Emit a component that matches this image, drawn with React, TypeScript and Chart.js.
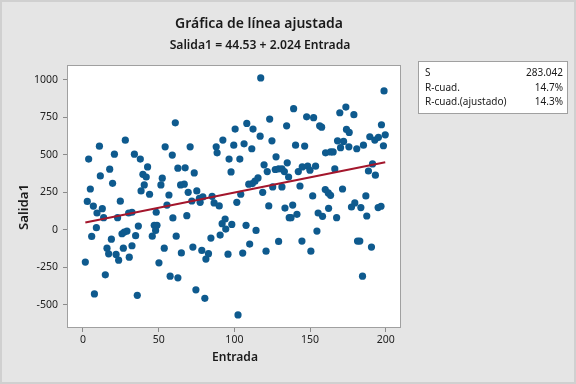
import { useEffect, useRef } from "react";
import { Chart, registerables } from "chart.js";

Chart.register(...registerables);

const entrada = [
  3.8, 10.9, 28, 61, 20.8, 34, 37.9, 42.7, 17.7, 11.5, 19.6, 39.6, 41.8, 40.5, 38.4, 44, 4.9, 2.9, 6.9, 12.8,
  24.7, 54.3, 59, 62.7, 52.4, 51.5, 56.8, 55.5, 64.5, 9.3, 13.7, 22.9, 30.2, 32.4, 8.9, 5.8, 1.6, 7.6, 14.8, 15.9,
  17, 18.8, 21.9, 23.6, 25.8, 27.3, 29.1, 26.7, 30.6, 32.4, 34.8, 36.6, 35.9, 48.4, 59.4, 47.1, 48.9, 48, 45.8, 53.7,
  50.2, 57.6, 62.7, 61.6, 65, 117.4, 67.5, 70.8, 73.5, 66.9, 69.5, 75.2, 71.9, 76.9, 79.2, 77.4, 85.3, 86.6, 90, 88,
  88.6, 92.4, 100.5, 108.2, 112.3, 99.6, 106.4, 111.5, 117, 123.3, 124.8, 134.5, 96.5, 103.6, 97.8, 127.5, 119.6, 121.7, 127, 129.2,
  131.4, 133, 134.9, 135.8, 115.6, 113.6, 111.9, 109.5, 118.7, 125.3, 131.4, 104.2, 101.6, 122.7, 133.4, 68.6, 72.6, 78.5, 82.9, 81.2,
  74.6, 80.5, 84.5, 90.6, 91.9, 93.9, 94.3, 98.3, 95.8, 105.5, 107.7, 114.3, 110.1, 120.9, 129.2, 136.2, 102.4, 198.8, 139.1, 169.6,
  173.6, 178.9, 147.7, 152.3, 156.3, 157.6, 174, 175.8, 197.1, 199.6, 189.4, 192.7, 195.1, 198.4, 168.1, 172.1, 170.1, 175.6, 180.8, 185.2,
  140.4, 146.4, 160.2, 163.5, 165.2, 142.2, 144.8, 148.4, 149.9, 153.6, 166.3, 191.2, 188.5, 193.1, 143.3, 160, 162, 163.5, 171.4, 151.7,
  186.8, 138.5, 162.2, 177.3, 179.5, 183.5, 194.9, 196.8, 137.4, 141.3, 155.3, 158.2, 167.5, 187.4, 144.6, 150.5, 154.5, 181.3, 182.8, 190.5,
  184.6,
];

const salida1 = [
  470, 556, 596, 712, 503, 503, 470, 418, 403, 358, 309, 369, 351, 298, 258, 236, 271, 188, 157, 140,
  190, 552, 497, 410, 343, 298, 231, 164, 298, 111, 80, 80, 111, 116, 13, -45, -216, -428, -301, -123,
  -161, -63, -165, -203, -27, -16, -9, -123, -183, -107, -40, 24, -437, 116, 78, 29, 29, -5, -43, -123,
  -221, -310, -321, -43, -155, 1011, 412, 552, 378, 303, 249, 258, 191, 209, 218, 182, 222, 178, 158, 552,
  512, 597, 670, 708, 670, 563, 572, 539, 623, 737, 592, 692, 470, 470, 385, 485, 432, 387, 401, 405,
  405, 387, 445, 351, 345, 323, 307, 303, 249, 285, 285, 236, 182, 158, 144, 93, -116, -138, -160, -196,
  -401, -457, -56, -36, 40, 71, 4, 35, -163, -156, 29, -5, -96, -143, -78, 80, -568, 924, 806, 779,
  817, 766, 752, 746, 692, 683, 668, 648, 699, 632, 619, 597, 615, 559, 592, 588, 546, 552, 539, 563,
  563, 557, 512, 518, 518, 387, 418, 423, 396, 423, 405, 438, 391, 363, 291, 267, 245, 229, 271, 225,
  225, 164, 142, 151, 178, 147, 147, 156, 80, 102, 111, 89, 80, 91, -76, -143, -9, -76, -76, -116,
  -310,
];

const xTicks = [0, 50, 100, 150, 200];
const yTicks = [-500, -250, 0, 250, 500, 750, 1000];

const chartTitle = "Gráfica de línea ajustada";
const chartSubtitle = "Salida1 = 44.53 + 2.024 Entrada";
const xTitle = "Entrada";
const yTitle = "Salida1";
const statLabels = ["S", "R-cuad.", "R-cuad.(ajustado)"];
const statValues = ["283.042", "14.7%", "14.3%"];
const intercept = 44.53;
const slope = 2.024;

const FONT = "'Noto Sans', 'Open Sans', sans-serif";

export default function App() {
  const ref = useRef<HTMLCanvasElement | null>(null);

  useEffect(() => {
    const canvas = ref.current;
    if (!canvas) return;
    const xmin = Math.min(...entrada);
    const xmax = Math.max(...entrada);
    const fitLine = [
      { x: xmin, y: intercept + slope * xmin },
      { x: xmax, y: intercept + slope * xmax },
    ];
    const points = entrada.map((x, i) => ({ x, y: salida1[i] }));

    const fitText = (ctx: CanvasRenderingContext2D, text: string, weight: string, size: number, target: number) => {
      ctx.font = `${weight} ${size}px ${FONT}`;
      const w = ctx.measureText(text).width;
      const s = (size * target) / w;
      ctx.font = `${weight} ${s}px ${FONT}`;
    };

    const decor = {
      id: "decor",
      beforeDraw(chart: any) {
        const ctx = chart.ctx as CanvasRenderingContext2D;
        const a = chart.chartArea;
        ctx.save();
        ctx.fillStyle = "#e5e5e5";
        ctx.fillRect(0, 0, chart.width, chart.height);
        ctx.strokeStyle = "#d0d0d0";
        ctx.lineWidth = 2;
        ctx.strokeRect(1, 1, chart.width - 2, chart.height - 2);
        ctx.fillStyle = "#ffffff";
        ctx.fillRect(a.left, a.top, a.right - a.left, a.bottom - a.top);
        ctx.restore();
      },
      afterDraw(chart: any) {
        const ctx = chart.ctx as CanvasRenderingContext2D;
        const a = chart.chartArea;
        ctx.save();
        ctx.strokeStyle = "#a0a0a0";
        ctx.lineWidth = 1;
        ctx.strokeRect(a.left + 0.5, a.top + 0.5, a.right - a.left - 1, a.bottom - a.top - 1);

        ctx.fillStyle = "#1a1a1a";
        ctx.textAlign = "center";
        ctx.textBaseline = "middle";
        fitText(ctx, chartTitle, "600", 17, 168);
        ctx.fillText(chartTitle, 259, 24);
        fitText(ctx, chartSubtitle, "600", 13, 181);
        ctx.fillText(chartSubtitle, 260, 46);

        fitText(ctx, xTitle, "600", 13, 46);
        ctx.fillText(xTitle, 235, 358);

        ctx.save();
        ctx.translate(24, 207);
        ctx.rotate(-Math.PI / 2);
        fitText(ctx, yTitle, "600", 13, 46);
        ctx.fillText(yTitle, 0, 0);
        ctx.restore();

        // stats box
        ctx.fillStyle = "#ffffff";
        ctx.fillRect(418, 61, 150, 53);
        ctx.strokeStyle = "#a0a0a0";
        ctx.strokeRect(418.5, 61.5, 149, 52);
        ctx.fillStyle = "#1a1a1a";
        ctx.font = `400 10px ${FONT}`;
        const rows = [73, 88, 102];
        statLabels.forEach((l, i) => {
          ctx.textAlign = "left";
          ctx.fillText(l, 425, rows[i]);
          ctx.textAlign = "right";
          ctx.fillText(statValues[i], 563, rows[i]);
        });
        ctx.restore();
      },
    };

    const chart = new Chart(canvas, {
      type: "scatter",
      data: {
        datasets: [
          {
            type: "line",
            data: fitLine,
            borderColor: "#a3162c",
            borderWidth: 2,
            pointRadius: 0,
            showLine: true,
            fill: false,
            order: 0,
          } as any,
          {
            data: points,
            backgroundColor: "#0e5a8e",
            borderColor: "#0e5a8e",
            pointRadius: 3.6,
            borderWidth: 0,
            order: 1,
          },
        ],
      },
      options: {
        responsive: false,
        animation: false,
        layout: { padding: { top: 65, left: 0, right: 175, bottom: 0 } },
        plugins: {
          legend: { display: false },
          tooltip: { enabled: false },
          title: { display: false },
        },
        scales: {
          x: {
            type: "linear",
            min: -10.5,
            max: 210,
            afterBuildTicks: (s: any) => {
              s.ticks = xTicks.map((v) => ({ value: v }));
            },
            afterFit: (s: any) => {
              s.height = 56;
            },
            grid: { drawOnChartArea: false, drawTicks: true, tickLength: 4, color: "#8a8a8a" },
            border: { display: false },
            ticks: {
              color: "#222",
              font: { family: FONT, size: 10.5 },
              padding: 2,
              maxRotation: 0,
              autoSkip: false,
              callback: (v: any) => String(v),
            },
          },
          y: {
            type: "linear",
            min: -655,
            max: 1097,
            afterBuildTicks: (s: any) => {
              s.ticks = yTicks.map((v) => ({ value: v }));
            },
            afterFit: (s: any) => {
              s.width = 67;
            },
            grid: { drawOnChartArea: false, drawTicks: true, tickLength: 4, color: "#8a8a8a" },
            border: { display: false },
            ticks: {
              color: "#222",
              font: { family: FONT, size: 10.5 },
              padding: 5,
              autoSkip: false,
              callback: (v: any) => String(v),
            },
          },
        },
      },
      plugins: [decor],
    });
    return () => chart.destroy();
  }, []);

  return (
    <div style={{ position: "fixed", left: 0, top: 0, width: 576, height: 384 }}>
      <canvas ref={ref} width={576} height={384} style={{ display: "block", width: 576, height: 384 }} />
    </div>
  );
}
